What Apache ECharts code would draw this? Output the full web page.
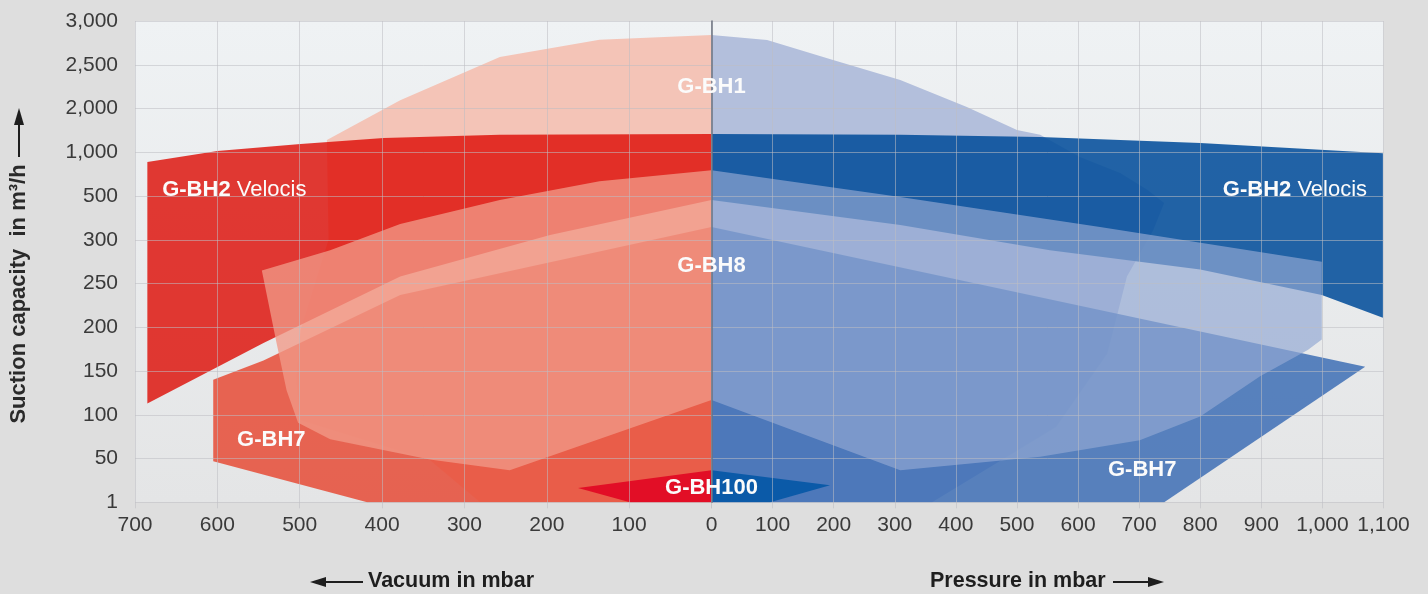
<!DOCTYPE html>
<html>
<head>
<meta charset="utf-8">
<script src="https://cdn.jsdelivr.net/npm/echarts@6/dist/echarts.min.js"></script>
<style>
html,body{margin:0;padding:0;background:#dedede;}
#c{width:1428px;height:594px;}
</style>
</head>
<body>
<div id="c"></div>
<script>
// ---- axis ticks ----
const yTicks = [1, 50, 100, 150, 200, 250, 300, 500, 1000, 2000, 2500, 3000];
const vacuumTicks = [0, 100, 200, 300, 400, 500, 600, 700];
const pressureTicks = [0, 100, 200, 300, 400, 500, 600, 700, 800, 900, 1000, 1100];

// ---- shapes: [mbar, m3/h] ----  (vacuum side)
const bh1Vac = [[0,2840],[136,2785],[257,2590],[378,2095],[467,1280],[465,300],[499,197],[504,140],[499,94],[342,48.5],[281,1],[0,1]];
const bh2Vac = [[685,890],[600,1030],[499,1190],[398,1325],[257,1400],[0,1420],[0,482],[196,322],[378,258],[544,182],[685,113]];
const bh7Vac = [[605,140],[544,162],[378,237],[0,358],[0,1],[418,1],[605,47]];
const bh8Vac = [[546,265],[463,288],[378,372],[257,482],[136,668],[0,795],[0,117],[245,37],[342,49],[463,72],[502,91],[516,128],[529,186]];
const bh100Vac = [[162,17],[0,37],[0,1],[99,1]];

// (pressure side)
const bh1Pre = [[0,2840],[91,2782],[199,2555],[309,2327],[418,2017],[500,1510],[538,1400],[603,945],[669,763],[714,570],[741,468],[723,344],[680,258],[648,170],[564,86],[361,1],[0,1]];
const bh2Pre = [[0,1420],[309,1400],[538,1350],[800,1210],[1099,990],[1099,211],[999,237],[800,266],[554,288],[309,368],[0,482]];
const bh7Pre = [[0,358],[1070,155],[741,1],[0,1]];
const bh8Pre = [[0,795],[309,496],[636,358],[999,275],[999,186],[976,174],[898,144],[800,98],[701,71],[538,52],[309,37],[0,117]];
const bh100Pre = [[0,37],[194,20],[96,1],[0,1]];

// ---- labels ----
const labelText  = ['G-BH1','G-BH8','G-BH100','G-BH2 Velocis','G-BH7','G-BH2 Velocis','G-BH7'];
const labelSide  = ['P','P','P','V','V','P','P'];
const labelX     = [0, 0, 0, 667, 576, 837, 649];
const labelY     = [2245, 270, 17, 570, 71, 570, 37];
const labelAlign = ['center','center','center','left','left','left','left'];

const FONT = '"Liberation Sans", Arial, Helvetica, sans-serif';

function capToIdx(c) {
  for (let i = 0; i < yTicks.length - 1; i++) {
    if (c <= yTicks[i + 1]) return i + (c - yTicks[i]) / (yTicks[i + 1] - yTicks[i]);
  }
  return yTicks.length - 1;
}
function fmt(v) { return Number(v).toLocaleString('en-US'); }

function poly(name, pts, gi, fill, z) {
  return {
    type: 'custom', name: name, xAxisIndex: gi, yAxisIndex: gi, z: z,
    silent: true, animation: false,
    data: pts.map(p => [p[0], capToIdx(p[1])]),
    renderItem: function (params, api) {
      if (params.dataIndex !== 0) return null;
      const points = pts.map(p => api.coord([p[0], capToIdx(p[1])]));
      return { type: 'polygon', shape: { points: points }, style: { fill: fill } };
    }
  };
}

function labelSeries(side, gi) {
  const idx = labelText.map((t, i) => i).filter(i => labelSide[i] === side);
  return {
    type: 'custom', xAxisIndex: gi, yAxisIndex: gi, z: 30, silent: true, animation: false,
    data: idx.map(i => [labelX[i], capToIdx(labelY[i])]),
    renderItem: function (params, api) {
      const i = idx[params.dataIndex];
      const p = api.coord([labelX[i], capToIdx(labelY[i])]);
      const t = labelText[i];
      let text;
      if (t.indexOf(' ') > 0) {
        const parts = t.split(' ');
        text = '{b|' + parts[0] + '} {n|' + parts[1] + '}';
      } else {
        text = '{b|' + t + '}';
      }
      return {
        type: 'text', x: p[0], y: p[1],
        style: {
          text: text, align: labelAlign[i], verticalAlign: 'middle',
          fill: '#ffffff', fontSize: 22, fontFamily: FONT,
          rich: {
            b: { fill: '#fbfbfb', fontSize: 22, fontWeight: 'bold', fontFamily: FONT },
            n: { fill: '#fbfbfb', fontSize: 22, fontWeight: 'normal', fontFamily: FONT }
          }
        }
      };
    }
  };
}

const chart = echarts.init(document.getElementById('c'), null, { renderer: 'canvas' });
const gridCol = 'rgba(190,190,195,0.55)';
const bgGrad = new echarts.graphic.LinearGradient(0, 0, 0, 1, [
  { offset: 0, color: '#eff2f4' }, { offset: 1, color: '#e4e5e6' }
]);
const axisLabelStyle = { fontSize: 21, color: '#3a3a3a', fontFamily: FONT };

const option = {
  backgroundColor: '#dedede',
  animation: false,
  grid: [
    { left: 135, top: 21, width: 576.5, bottom: 91.7, show: true, backgroundColor: bgGrad, borderWidth: 0 },
    { left: 711.5, top: 21, right: 44.5, bottom: 91.7, show: true, backgroundColor: bgGrad, borderWidth: 0 }
  ],
  xAxis: [
    { gridIndex: 0, type: 'value', inverse: true, min: vacuumTicks[0], max: vacuumTicks[vacuumTicks.length - 1], interval: 100, z: 10,
      axisLine: { show: false }, axisTick: { show: true, length: 6, lineStyle: { color: gridCol } },
      splitLine: { show: true, lineStyle: { color: gridCol, width: 1 } },
      axisLabel: Object.assign({ margin: 12, formatter: v => v === 0 ? '' : fmt(v) }, axisLabelStyle) },
    { gridIndex: 1, type: 'value', min: pressureTicks[0], max: pressureTicks[pressureTicks.length - 1], interval: 100, z: 10,
      axisLine: { show: false }, axisTick: { show: true, length: 6, lineStyle: { color: gridCol } },
      splitLine: { show: true, lineStyle: { color: gridCol, width: 1 } },
      axisLabel: Object.assign({ margin: 12, formatter: v => fmt(v) }, axisLabelStyle) }
  ],
  yAxis: [
    { gridIndex: 0, type: 'value', min: 0, max: yTicks.length - 1, interval: 1, z: 10,
      axisLine: { show: false }, axisTick: { show: false },
      splitLine: { show: true, lineStyle: { color: gridCol, width: 1 } },
      axisLabel: Object.assign({ margin: 17, formatter: v => fmt(yTicks[Math.round(v)]) }, axisLabelStyle) },
    { gridIndex: 1, type: 'value', min: 0, max: yTicks.length - 1, interval: 1, z: 11,
      axisLine: { show: true, lineStyle: { color: '#6d7380', width: 1.5 } }, axisTick: { show: false },
      splitLine: { show: true, lineStyle: { color: gridCol, width: 1 } },
      axisLabel: { show: false } }
  ],
  series: [
    poly('G-BH1', bh1Vac, 0, '#f4c4b7', 2),
    poly('G-BH2 Velocis', bh2Vac, 0, 'rgba(221,10,2,0.8)', 3),
    poly('G-BH7', bh7Vac, 0, 'rgba(230,75,54,0.85)', 4),
    poly('G-BH8', bh8Vac, 0, 'rgba(241,153,135,0.78)', 5),
    poly('G-BH100', bh100Vac, 0, '#e20e26', 6),

    poly('G-BH1', bh1Pre, 1, '#b3bfdc', 2),
    poly('G-BH2 Velocis', bh2Pre, 1, 'rgba(5,78,155,0.88)', 3),
    poly('G-BH7', bh7Pre, 1, 'rgba(51,103,177,0.8)', 4),
    poly('G-BH8', bh8Pre, 1, 'rgba(146,168,211,0.68)', 5),
    poly('G-BH100', bh100Pre, 1, '#0b5aa8', 6),

    labelSeries('V', 0),
    labelSeries('P', 1)
  ],
  graphic: [
    { type: 'text', x: 19, y: 294, rotation: Math.PI / 2,
      style: { text: 'Suction capacity  in m³/h', font: 'bold 22px ' + FONT, fill: '#2a2a2a', align: 'center', verticalAlign: 'middle' } },
    { type: 'line', shape: { x1: 19, y1: 157, x2: 19, y2: 122 }, style: { stroke: '#1e1e1e', lineWidth: 2 } },
    { type: 'polygon', shape: { points: [[19, 108], [14, 125], [24, 125]] }, style: { fill: '#1e1e1e' } },

    { type: 'text', x: 368, y: 581, style: { text: 'Vacuum in mbar', font: 'bold 21.5px ' + FONT, fill: '#1e1e1e', align: 'left', verticalAlign: 'middle' } },
    { type: 'line', shape: { x1: 322, y1: 582, x2: 363, y2: 582 }, style: { stroke: '#1e1e1e', lineWidth: 2 } },
    { type: 'polygon', shape: { points: [[310, 582], [326, 577], [326, 587]] }, style: { fill: '#1e1e1e' } },

    { type: 'text', x: 930, y: 581, style: { text: 'Pressure in mbar', font: 'bold 21.5px ' + FONT, fill: '#1e1e1e', align: 'left', verticalAlign: 'middle' } },
    { type: 'line', shape: { x1: 1113, y1: 582, x2: 1152, y2: 582 }, style: { stroke: '#1e1e1e', lineWidth: 2 } },
    { type: 'polygon', shape: { points: [[1164, 582], [1148, 577], [1148, 587]] }, style: { fill: '#1e1e1e' } }
  ]
};
chart.setOption(option);
</script>
</body>
</html>
